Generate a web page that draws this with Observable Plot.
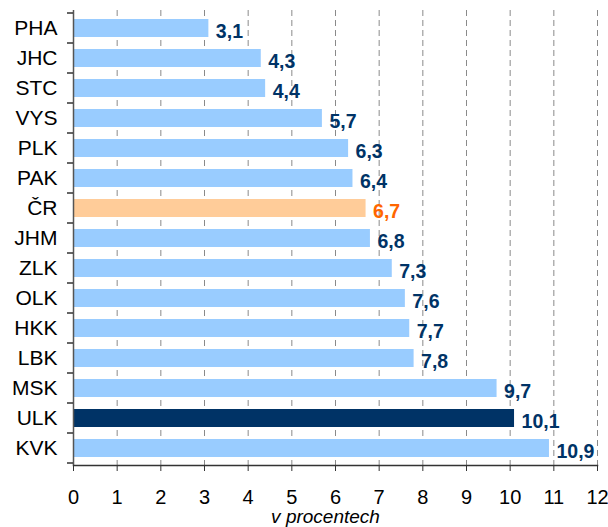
<!DOCTYPE html>
<html>
<head>
<meta charset="utf-8">
<script src="https://cdn.jsdelivr.net/npm/d3@7"></script>
<script src="https://cdn.jsdelivr.net/npm/@observablehq/plot@0.6"></script>
<style>
  html, body { margin: 0; padding: 0; background: #fff; }
  #chart svg { display: block; font-family: "Liberation Sans", Arial, sans-serif; }
</style>
</head>
<body>
<div id="chart"></div>
<script>
const regions = ["PHA", "JHC", "STC", "VYS", "PLK", "PAK", "ČR", "JHM", "ZLK", "OLK", "HKK", "LBK", "MSK", "ULK", "KVK"];
const values  = [3.1, 4.3, 4.4, 5.7, 6.3, 6.4, 6.7, 6.8, 7.3, 7.6, 7.7, 7.8, 9.7, 10.1, 10.9];
const xTicks  = [0, 1, 2, 3, 4, 5, 6, 7, 8, 9, 10, 11, 12];
const axisTitle = "v procentech";
const national = "ČR";
const highlight = "ULK";

const data = regions.map((r, i) => ({region: r, value: values[i]}));

const lightBlue = "#99ccff";
const peach = "#ffcc99";
const navy = "#003366";
const orange = "#ff6600";

const fmt = v => d3.format(".1f")(v).replace(".", ",");

const chart = Plot.plot({
  width: 608,
  height: 527,
  marginLeft: 73,
  marginRight: 11,
  marginTop: 10,
  marginBottom: 62,
  style: {fontFamily: "'Liberation Sans', Arial, sans-serif", fontSize: "20px", color: "#000"},
  x: {domain: [0, 12]},
  y: {domain: regions, paddingInner: 0.4, paddingOuter: 0.2},
  marks: [
    Plot.gridX(xTicks.filter(t => t > 0), {stroke: "#8a8a8a", strokeOpacity: 1, strokeDasharray: "6,4", strokeWidth: 1}),
    Plot.barX(data, {
      y: "region",
      x: "value",
      fill: d => d.region === national ? peach : d.region === highlight ? navy : lightBlue
    }),
    Plot.text(data, {
      y: "region",
      x: "value",
      text: d => fmt(d.value),
      textAnchor: "start",
      dx: 7,
      dy: 3,
      fontWeight: "bold",
      fontSize: 19.5,
      fill: d => d.region === national ? orange : navy
    }),
    Plot.axisY({tickSize: 0, tickPadding: 16, fontSize: 21, fill: "#000", label: null}),
    Plot.axisX({ticks: xTicks, tickSize: 6, tickPadding: 18, fontSize: 20, fill: "#000", stroke: "#333", label: null, tickFormat: d => String(d)}),
    Plot.ruleX([0], {stroke: "#555", strokeWidth: 1.5}),
    Plot.frame({anchor: "bottom", stroke: "#333", strokeWidth: 1.5}),
    Plot.text([axisTitle], {frameAnchor: "bottom", dy: 57, fontSize: 19, fontStyle: "italic", fill: "#000", dx: -10})
  ]
});

document.getElementById("chart").appendChild(chart);

// y-axis tick marks at band boundaries, via the chart's own band scale
const ys = chart.scale("y");
const xs = chart.scale("x");
const x0 = xs.apply(0);
const gap = ys.step - ys.bandwidth;
const bounds = regions.map(r => ys.apply(r) - gap / 2);
bounds.push(ys.apply(regions[regions.length - 1]) + ys.bandwidth + gap / 2);
const g = d3.select(chart).append("g").attr("stroke", "#333").attr("stroke-width", 1.5);
bounds.forEach(b => {
  g.append("line").attr("x1", x0 - 6).attr("x2", x0).attr("y1", b).attr("y2", b);
});
</script>
</body>
</html>
